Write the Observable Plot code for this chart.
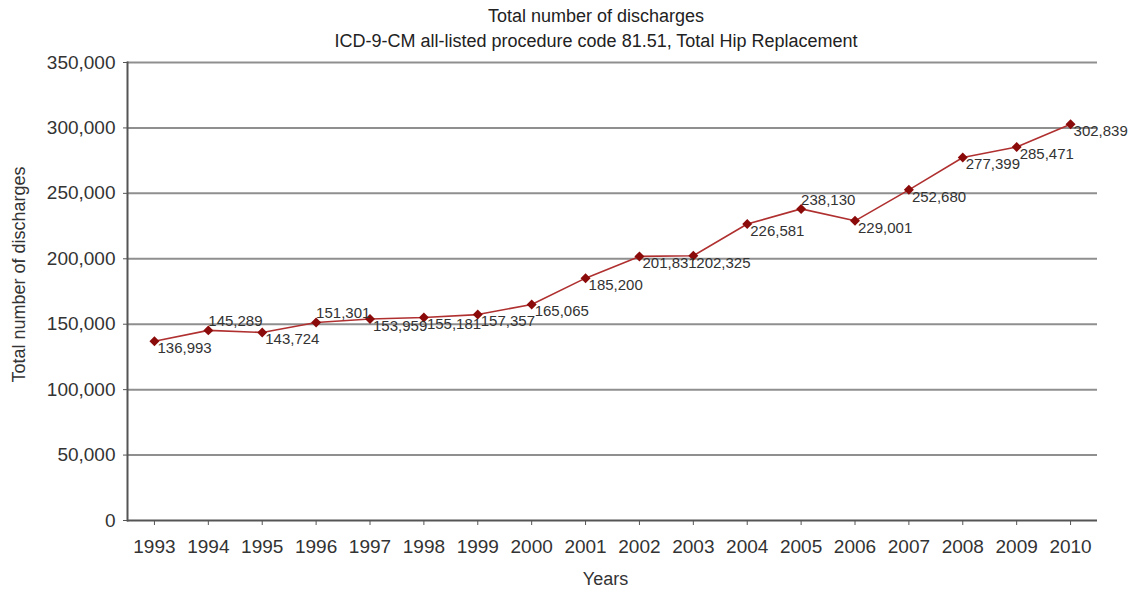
<!DOCTYPE html>
<html><head><meta charset="utf-8">
<script src="https://cdn.jsdelivr.net/npm/d3@7"></script>
<script src="https://cdn.jsdelivr.net/npm/@observablehq/plot@0.6"></script>
<style>
body{margin:0;background:#fff;font-family:"Liberation Sans",Arial,Helvetica,sans-serif;}
#title{position:relative;z-index:1;width:1146px;height:44px;overflow:visible;padding-top:4px;padding-left:46px;box-sizing:border-box;text-align:center;font-size:18px;line-height:25px;color:#222;}
#chart svg{display:block;}
</style>
</head><body>
<div id="title"><div>Total number of discharges</div><div>ICD-9-CM all-listed procedure code 81.51, Total Hip Replacement</div></div>
<div id="chart"></div>
<script>
const years = [1993,1994,1995,1996,1997,1998,1999,2000,2001,2002,2003,2004,2005,2006,2007,2008,2009,2010];
const discharges = [136993,145289,143724,151301,153959,155181,157357,165065,185200,201831,202325,226581,238130,229001,252680,277399,285471,302839];
const yTicks = [0,50000,100000,150000,200000,250000,300000,350000];
const labelAboveYears = [1994,1996,2005];
const yTitle = "Total number of discharges";
const xTitle = "Years";

const data = years.map((y,i)=>({year:y, value:discharges[i]}));
const fmt = d3.format(",");
const below = data.filter(d=>!labelAboveYears.includes(d.year));
const above = data.filter(d=>labelAboveYears.includes(d.year));

const chart = Plot.plot({
  width:1146, height:545,
  marginLeft:127, marginRight:49, marginTop:18, marginBottom:69,
  style:{fontFamily:'"Liberation Sans",Arial,Helvetica,sans-serif', color:"#333", background:"transparent"},
  x:{type:"point", domain:years, padding:0.5, round:false},
  y:{domain:[0,350000]},
  marks:[
    Plot.ruleY(yTicks.filter(d=>d>0), {stroke:"#8f8f8f", strokeWidth:2}),
    Plot.frame({anchor:"left", stroke:"#555", strokeWidth:2}),
    Plot.ruleY([0], {stroke:"#555", strokeWidth:2}),
    Plot.axisY({ticks:yTicks, tickFormat:fmt, tickSize:4, tickPadding:8, fontSize:19, label:null, stroke:"#555"}),
    Plot.axisX({tickSize:5, tickPadding:14, fontSize:19, label:null, tickFormat:d=>String(d), stroke:"#555"}),
    Plot.line(data, {x:"year", y:"value", stroke:"#b03030", strokeWidth:1.6}),
    Plot.dot(data, {x:"year", y:"value", symbol:"diamond2", r:4.5, fill:"#8b0a0a", stroke:null}),
    Plot.text(below, {x:"year", y:"value", text:d=>fmt(d.value), dx:3, dy:7, textAnchor:"start", fontSize:15, fill:"#333"}),
    Plot.text(above, {x:"year", y:"value", text:d=>fmt(d.value), dx:0, dy:-9, textAnchor:"start", fontSize:15, fill:"#333"}),
    Plot.text([yTitle], {frameAnchor:"left", rotate:-90, dx:-108, dy:-17, fontSize:18, fill:"#333", textAnchor:"middle", lineAnchor:"middle"}),
    Plot.text([xTitle], {frameAnchor:"bottom", dx:-7, dy:59, fontSize:18, fill:"#333", textAnchor:"middle", lineAnchor:"middle"})
  ]
});
document.getElementById("chart").append(chart);
</script>
</body></html>
